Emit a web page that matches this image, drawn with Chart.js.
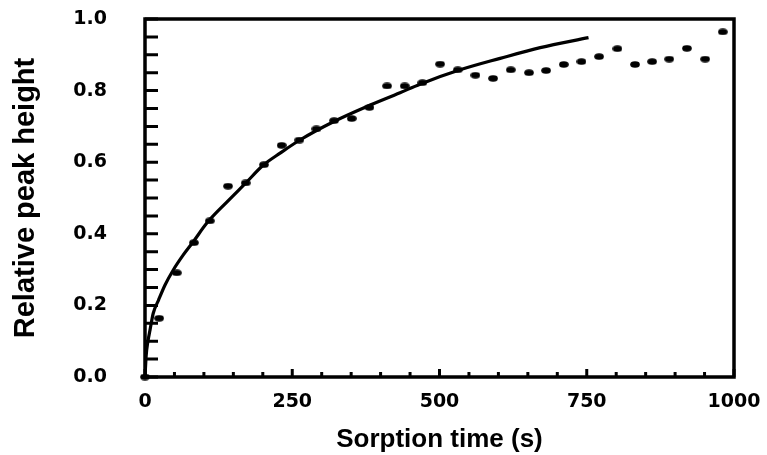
<!DOCTYPE html>
<html>
<head>
<meta charset="utf-8">
<script src="https://cdn.jsdelivr.net/npm/chart.js@4.4.1/dist/chart.umd.min.js"></script>
<style>
  html, body { margin: 0; padding: 0; background: #fff; }
  #wrap { width: 767px; height: 455px; }
</style>
</head>
<body>
<div id="wrap"><canvas id="chart"></canvas></div>
<script>
// measured points: sorption time (s) and relative peak height
const pointTimes = [0, 24, 54, 83, 110, 141, 171, 202, 232, 262, 291, 321, 351, 381, 411, 441, 471,
  501, 531, 561, 591, 621, 652, 681, 711, 741, 771, 802, 832, 861, 890, 920, 951, 981];
const pointHeights = [0, 0.164, 0.291, 0.375, 0.436, 0.533, 0.542, 0.593, 0.647, 0.662, 0.693, 0.716, 0.722, 0.753, 0.813, 0.813, 0.822,
  0.874, 0.858, 0.843, 0.834, 0.858, 0.850, 0.856, 0.873, 0.881, 0.895, 0.917, 0.873, 0.881, 0.888, 0.918, 0.888, 0.964];

// fitted curve
const curveTimes = [0, 2, 5, 8.5, 14, 23, 34, 48, 65, 82, 105, 141, 170, 201, 230, 263, 320, 376, 433, 467, 535, 603, 671, 753];
const curveHeights = [0, 0.06, 0.10, 0.131, 0.178, 0.215, 0.257, 0.299, 0.341, 0.378, 0.43, 0.492, 0.54, 0.592, 0.626, 0.662, 0.713, 0.755, 0.794, 0.818, 0.858, 0.890, 0.920, 0.948];

const xTickLabels = [0, 250, 500, 750, 1000];
const yTickLabels = [0, 0.2, 0.4, 0.6, 0.8, 1.0];

// slightly flattened dot like the original markers
const dot = document.createElement('canvas');
dot.width = 10;
dot.height = 7;
const dc = dot.getContext('2d');
dc.fillStyle = '#000';
dc.beginPath();
dc.ellipse(5, 3.5, 4.8, 3.3, 0, 0, Math.PI * 2);
dc.fill();

// box round the plot and inward tick marks
const frameAndTicks = {
  id: 'frameAndTicks',
  beforeDatasetsDraw(chart) {
    const { ctx, chartArea: a, scales: { x, y } } = chart;
    ctx.save();
    ctx.strokeStyle = '#000';
    ctx.lineWidth = 3;
    ctx.beginPath();
    x.ticks.forEach(t => {
      const px = x.getPixelForValue(t.value);
      const len = xTickLabels.includes(t.value) ? 8 : 5;
      ctx.moveTo(px, a.bottom);
      ctx.lineTo(px, a.bottom - len);
    });
    y.ticks.forEach(t => {
      const py = y.getPixelForValue(t.value);
      ctx.moveTo(a.left, py);
      ctx.lineTo(a.left + 13, py);
    });
    ctx.stroke();
    ctx.lineWidth = 3.5;
    ctx.strokeRect(a.left, a.top, a.right - a.left, a.bottom - a.top);
    ctx.restore();
  }
};

const tickFont = { family: '"DejaVu Sans", sans-serif', size: 19, weight: 'bold' };

new Chart(document.getElementById('chart'), {
  type: 'scatter',
  data: {
    datasets: [
      {
        data: curveTimes.map((t, i) => ({ x: t, y: curveHeights[i] })),
        showLine: true,
        borderColor: '#000',
        borderWidth: 3.2,
        pointRadius: 0,
        cubicInterpolationMode: 'monotone',
        fill: false
      },
      {
        data: pointTimes.map((t, i) => ({ x: t, y: pointHeights[i] })),
        pointStyle: dot,
        pointRadius: 5,
        clip: false
      }
    ]
  },
  options: {
    responsive: true,
    maintainAspectRatio: false,
    animation: false,
    layout: { padding: { top: 19, right: 33, left: 0, bottom: 0 } },
    plugins: { legend: { display: false }, tooltip: { enabled: false } },
    scales: {
      x: {
        type: 'linear',
        min: 0,
        max: 1000,
        grid: { display: false, drawTicks: false },
        border: { display: false },
        ticks: {
          stepSize: 50,
          autoSkip: false,
          maxRotation: 0,
          padding: 14,
          color: '#000',
          font: tickFont,
          callback: v => xTickLabels.includes(v) ? String(v) : ''
        },
        title: {
          display: true,
          text: 'Sorption time (s)',
          color: '#000',
          font: { family: '"Liberation Sans", Arial, sans-serif', size: 26, weight: 'bold', lineHeight: 1.2 },
          padding: { top: 0, bottom: 0 }
        },
        afterFit: s => {
          s.height = 78;
          s.paddingLeft = 0;
          s.paddingRight = 0;
        }
      },
      y: {
        min: 0,
        max: 1,
        grid: { display: false, drawTicks: false },
        border: { display: false },
        ticks: {
          stepSize: 0.05,
          autoSkip: false,
          padding: 38,
          color: '#000',
          font: tickFont,
          callback: v => yTickLabels.some(t => Math.abs(t - v) < 1e-6) ? v.toFixed(1) : ''
        },
        title: {
          display: true,
          text: 'Relative peak height',
          color: '#000',
          font: { family: '"Liberation Sans", Arial, sans-serif', size: 29, weight: 'bold', lineHeight: 1.2 },
          padding: { top: 9, bottom: 0 }
        },
        afterFit: s => {
          s.width = 145;
          s.paddingTop = 0;
          s.paddingBottom = 0;
        }
      }
    }
  },
  plugins: [frameAndTicks]
});
</script>
</body>
</html>
